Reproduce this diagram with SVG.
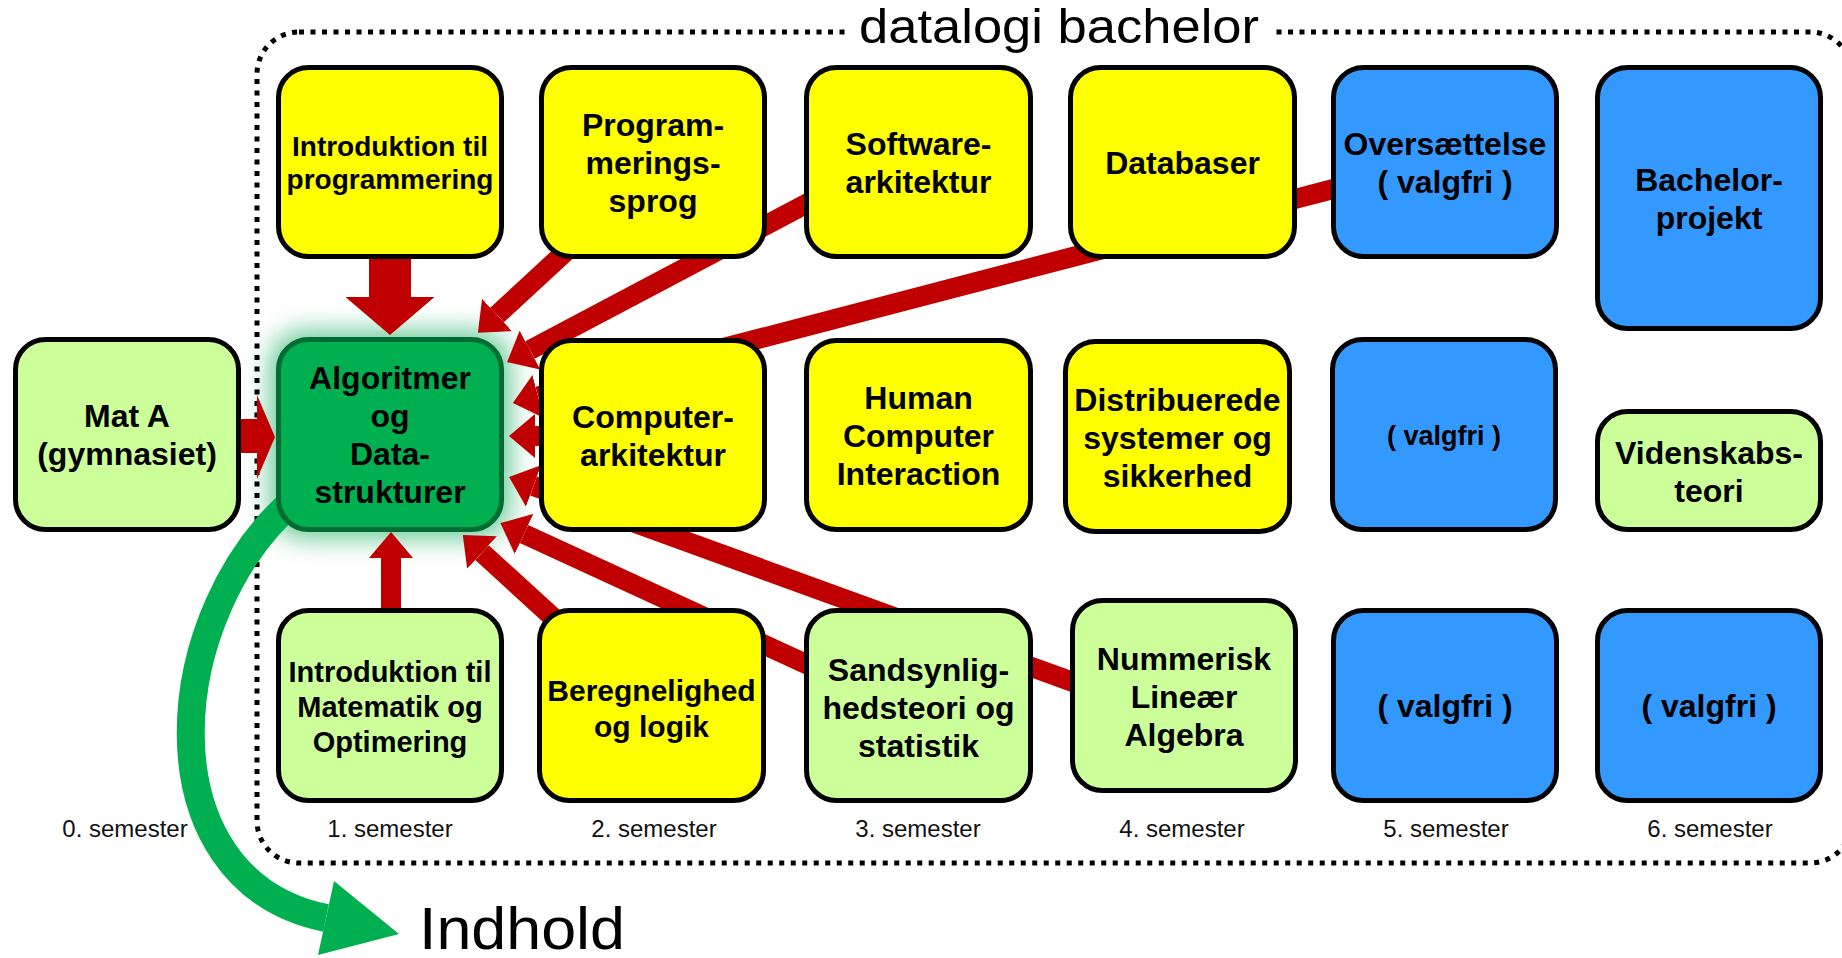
<svg xmlns="http://www.w3.org/2000/svg" width="1842" height="958" viewBox="0 0 1842 958">
<style>
.box{stroke:#000;stroke-width:5}
.y{fill:#FFFF00}.g{fill:#CCFF99}.b{fill:#3399FF}
.alg{fill:#00B050;stroke:#006B33;stroke-width:5}
.t{font-family:"Liberation Sans",Arial,sans-serif;font-weight:bold;fill:#000;text-anchor:middle;dominant-baseline:central}
.f32{font-size:32px}.f28{font-size:28px}.f29{font-size:29px}.f30{font-size:30px}.f27{font-size:27px}
.sem{font-family:"Liberation Sans",Arial,sans-serif;font-size:24px;fill:#111;text-anchor:middle}
.red{stroke:#C00000;stroke-width:20;fill:none;marker-end:url(#ah)}
</style>
<defs>
<marker id="ah" markerUnits="userSpaceOnUse" viewBox="0 0 26 44" markerWidth="26" markerHeight="44" refX="0" refY="22" orient="auto"><path d="M0,0 L26,22 L0,44 Z" fill="#C00000"/></marker>
<marker id="ahBig" markerUnits="userSpaceOnUse" viewBox="0 0 38 89" markerWidth="38" markerHeight="89" refX="0" refY="44.5" orient="auto"><path d="M0,0 L38,44.5 L0,89 Z" fill="#C00000"/></marker>
<filter id="glow" x="-40%" y="-40%" width="180%" height="180%"><feGaussianBlur stdDeviation="13"/></filter>
</defs>
<rect width="1842" height="958" fill="#fff"/>
<rect x="270" y="331" width="240" height="207" rx="34" fill="#3DBB7A" opacity="0.8" filter="url(#glow)"/>
<g id="frame">
<rect x="257" y="32" width="1595" height="831" rx="42" fill="none" stroke="#000" stroke-width="5" stroke-dasharray="5 6.5"/>
<rect x="846" y="20" width="425" height="24" fill="#fff"/>
</g>
<g id="connectors">
<line class="red" x1="1360" y1="182" x2="538" y2="396.4"/>
<line class="red" x1="840" y1="186" x2="530" y2="350"/>
<line class="red" x1="575" y1="243" x2="497" y2="315"/>
<line class="red" x1="560" y1="436" x2="535" y2="436"/>
<line class="red" x1="1095" y1="690" x2="533.5" y2="486"/>
<line class="red" x1="830" y1="675" x2="524" y2="534"/>
<line class="red" x1="570" y1="633" x2="482" y2="552.6"/>
<line class="red" x1="391" y1="612" x2="391" y2="558"/>
<line x1="390" y1="255" x2="390" y2="297" stroke="#C00000" stroke-width="42" marker-end="url(#ahBig)"/>
<polygon points="236,419 257,419 257,395 275,437 257,479 257,453 236,453" fill="#C00000"/>
<path d="M300 495 C160 610 140 880 326 918" fill="none" stroke="#00B050" stroke-width="28"/>
<polygon points="334,881 318,955 399,934" fill="#00B050"/>
</g>
<g id="n_introprog"><rect class="box y" x="278.5" y="67.5" width="223" height="189" rx="30"/><text class="t f28" x="390"><tspan x="390" y="145.5">Introduktion til</tspan><tspan x="390" y="178.5">programmering</tspan></text></g>
<g id="n_progsprog"><rect class="box y" x="541.5" y="67.5" width="223" height="189" rx="30"/><text class="t f32"><tspan x="653" y="125">Program-</tspan><tspan x="653" y="163">merings-</tspan><tspan x="653" y="201">sprog</tspan></text></g>
<g id="n_software"><rect class="box y" x="806.5" y="67.5" width="224" height="189" rx="30"/><text class="t f32"><tspan x="918.5" y="143.5">Software-</tspan><tspan x="918.5" y="181.5">arkitektur</tspan></text></g>
<g id="n_databaser"><rect class="box y" x="1070.5" y="67.5" width="224" height="189" rx="30"/><text class="t f32"><tspan x="1182.5" y="163">Databaser</tspan></text></g>
<g id="n_oversaettelse"><rect class="box b" x="1333.5" y="67.5" width="223" height="189" rx="30"/><text class="t f32"><tspan x="1445" y="143.5">Oversættelse</tspan><tspan x="1445" y="181.5">( valgfri )</tspan></text></g>
<g id="n_bachelor"><rect class="box b" x="1597.5" y="67.5" width="223" height="261" rx="30"/><text class="t f32"><tspan x="1709" y="180">Bachelor-</tspan><tspan x="1709" y="218">projekt</tspan></text></g>
<g id="n_mata"><rect class="box g" x="15.5" y="339.5" width="223" height="190" rx="30"/><text class="t f32"><tspan x="127" y="416">Mat A</tspan><tspan x="127" y="454">(gymnasiet)</tspan></text></g>
<g id="n_algoritmer"><rect class="alg" x="278.5" y="339.5" width="223" height="190" rx="30"/><text class="t f32"><tspan x="390" y="378">Algoritmer</tspan><tspan x="390" y="416">og</tspan><tspan x="390" y="454">Data-</tspan><tspan x="390" y="492">strukturer</tspan></text></g>
<g id="n_computer"><rect class="box y" x="541.5" y="340.5" width="223" height="189" rx="30"/><text class="t f32"><tspan x="653" y="417">Computer-</tspan><tspan x="653" y="455">arkitektur</tspan></text></g>
<g id="n_human"><rect class="box y" x="806.5" y="340.5" width="224" height="189" rx="30"/><text class="t f32"><tspan x="918.5" y="398">Human</tspan><tspan x="918.5" y="436">Computer</tspan><tspan x="918.5" y="474">Interaction</tspan></text></g>
<g id="n_distribuerede"><rect class="box y" x="1065.5" y="341.5" width="224" height="190" rx="30"/><text class="t f32"><tspan x="1177.5" y="399.5">Distribuerede</tspan><tspan x="1177.5" y="437.5">systemer og</tspan><tspan x="1177.5" y="475.5">sikkerhed</tspan></text></g>
<g id="n_valgfri2"><rect class="box b" x="1332.5" y="339.5" width="223" height="190" rx="30"/><text class="t f27"><tspan x="1444" y="436">( valgfri )</tspan></text></g>
<g id="n_videnskab"><rect class="box g" x="1597.5" y="411.5" width="223" height="118" rx="30"/><text class="t f32"><tspan x="1709" y="452.5">Videnskabs-</tspan><tspan x="1709" y="490.5">teori</tspan></text></g>
<g id="n_intromat"><rect class="box g" x="278.5" y="610.5" width="223" height="190" rx="30"/><text class="t f29"><tspan x="390" y="672">Introduktion til</tspan><tspan x="390" y="707">Matematik og</tspan><tspan x="390" y="742">Optimering</tspan></text></g>
<g id="n_beregnelighed"><rect class="box y" x="539.5" y="610.5" width="224" height="190" rx="30"/><text class="t f30"><tspan x="651.5" y="690">Beregnelighed</tspan><tspan x="651.5" y="726">og logik</tspan></text></g>
<g id="n_sandsynlighed"><rect class="box g" x="806.5" y="610.5" width="224" height="190" rx="30"/><text class="t f32"><tspan x="918.5" y="669.5">Sandsynlig-</tspan><tspan x="918.5" y="707.5">hedsteori og</tspan><tspan x="918.5" y="745.5">statistik</tspan></text></g>
<g id="n_nummerisk"><rect class="box g" x="1072.5" y="600.5" width="223" height="190" rx="30"/><text class="t f32"><tspan x="1184" y="658.5">Nummerisk</tspan><tspan x="1184" y="696.5">Lineær</tspan><tspan x="1184" y="734.5">Algebra</tspan></text></g>
<g id="n_valgfri5"><rect class="box b" x="1333.5" y="610.5" width="223" height="190" rx="30"/><text class="t f32"><tspan x="1445" y="706">( valgfri )</tspan></text></g>
<g id="n_valgfri6"><rect class="box b" x="1597.5" y="610.5" width="223" height="190" rx="30"/><text class="t f32"><tspan x="1709" y="706">( valgfri )</tspan></text></g>
<g id="labels">
<text x="1059" y="43" font-family="Liberation Sans, Arial, sans-serif" font-size="48" text-anchor="middle" textLength="400" lengthAdjust="spacingAndGlyphs" fill="#000">datalogi bachelor</text>
<text x="419" y="949" font-family="Liberation Sans, Arial, sans-serif" font-size="60" textLength="206" lengthAdjust="spacingAndGlyphs" fill="#000">Indhold</text>
<text class="sem" x="125" y="837">0. semester</text>
<text class="sem" x="390" y="837">1. semester</text>
<text class="sem" x="654" y="837">2. semester</text>
<text class="sem" x="918" y="837">3. semester</text>
<text class="sem" x="1182" y="837">4. semester</text>
<text class="sem" x="1446" y="837">5. semester</text>
<text class="sem" x="1710" y="837">6. semester</text>
</g>
</svg>
